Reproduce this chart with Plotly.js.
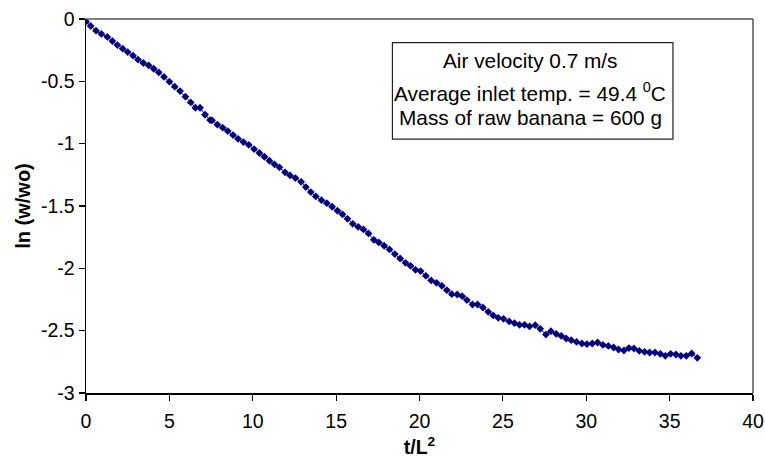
<!DOCTYPE html>
<html>
<head>
<meta charset="utf-8">
<script src="https://cdn.plot.ly/plotly-3.0.1.min.js"></script>
<style>html,body{margin:0;padding:0;background:#fff;}#chart{width:765px;height:458px;}</style>
</head>
<body>
<div id="chart"></div>
<script>
const tL2 = [0,0.28,0.6,0.92,1.28,1.58,1.88,2.2,2.5,2.82,3.12,3.44,3.76,4.06,4.36,4.68,5.0,5.32,5.64,5.96,6.28,6.56,6.84,7.14,7.44,7.56,7.88,8.2,8.5,8.82,9.12,9.44,9.76,10.08,10.4,10.7,11.0,11.3,11.6,11.94,12.24,12.56,12.9,13.18,13.48,13.78,14.12,14.44,14.76,15.08,15.38,15.68,16.0,16.32,16.64,16.94,17.26,17.56,17.88,18.2,18.52,18.84,19.16,19.46,19.76,20.06,20.38,20.7,21.02,21.34,21.64,21.94,22.26,22.56,22.84,23.18,23.48,23.8,24.12,24.42,24.72,25.04,25.38,25.7,26.0,26.3,26.6,26.94,27.24,27.58,27.88,28.2,28.5,28.8,29.1,29.42,29.74,30.04,30.36,30.68,31.0,31.32,31.64,31.94,32.26,32.56,32.86,33.18,33.5,33.8,34.12,34.44,34.74,35.06,35.38,35.68,36.0,36.32,36.66];
const lnW = [-0.02,-0.056,-0.094,-0.12,-0.144,-0.177,-0.209,-0.238,-0.265,-0.294,-0.326,-0.353,-0.372,-0.399,-0.428,-0.465,-0.503,-0.543,-0.578,-0.623,-0.669,-0.712,-0.712,-0.768,-0.811,-0.813,-0.848,-0.872,-0.899,-0.931,-0.961,-0.987,-1.009,-1.043,-1.075,-1.105,-1.137,-1.166,-1.19,-1.23,-1.255,-1.276,-1.306,-1.348,-1.388,-1.423,-1.453,-1.477,-1.506,-1.538,-1.567,-1.603,-1.643,-1.667,-1.688,-1.72,-1.771,-1.792,-1.819,-1.848,-1.886,-1.921,-1.956,-1.98,-2.012,-2.022,-2.06,-2.097,-2.116,-2.14,-2.175,-2.207,-2.21,-2.223,-2.255,-2.29,-2.29,-2.314,-2.349,-2.378,-2.397,-2.405,-2.426,-2.44,-2.453,-2.453,-2.466,-2.456,-2.485,-2.531,-2.504,-2.526,-2.542,-2.563,-2.576,-2.59,-2.603,-2.608,-2.603,-2.595,-2.614,-2.622,-2.635,-2.651,-2.659,-2.64,-2.643,-2.662,-2.67,-2.675,-2.675,-2.686,-2.702,-2.686,-2.691,-2.702,-2.702,-2.683,-2.718];
const xTicks = [0,5,10,15,20,25,30,35,40];
const yTicks = [0,-0.5,-1,-1.5,-2,-2.5,-3];
const noteLines = ["Air velocity 0.7 m/s","Average inlet temp. = 49.4 <sup>0</sup>C","Mass of raw banana = 600 g"];

const font = "Liberation Sans, Arial, sans-serif";
const trace = {
  x: tL2, y: lnW, type: 'scatter', mode: 'lines+markers',
  line: {color: '#000080', width: 1},
  marker: {symbol: 'diamond', size: 6, color: '#000080'},
  showlegend: false, hoverinfo: 'skip'
};
const noteY = [60.7, 91.7, 117.3];
const annotations = noteLines.map((t, i) => ({
  text: t, xref: 'paper', yref: 'paper',
  x: (530 - 86) / (752.7 - 86), y: 1 - (noteY[i] - 19) / (392.7 - 19),
  xanchor: 'center', yanchor: 'middle', showarrow: false,
  font: {family: font, size: 20.8, color: '#000'}
}));
const layout = {
  width: 765, height: 458,
  margin: {l: 86, r: 12.3, t: 19, b: 65.3},
  paper_bgcolor: '#fff', plot_bgcolor: '#fff',
  font: {family: font, size: 19, color: '#000'},
  xaxis: {
    range: [0, 40], tickvals: xTicks, ticktext: xTicks.map(String),
    showgrid: false, zeroline: false, showline: true, linecolor: '#000', linewidth: 1.5,
    ticks: 'outside', ticklen: 6, tickcolor: '#000', tickwidth: 1.2,
    ticklabelstandoff: 4,
    tickfont: {family: font, size: 19.5},
    title: {text: '<b>t/L<sup>2</sup></b>', font: {family: font, size: 19.5}, standoff: 14}
  },
  yaxis: {
    range: [-3, 0], tickvals: yTicks, ticktext: yTicks.map(String),
    showgrid: false, zeroline: false, showline: true, linecolor: '#000', linewidth: 1.5,
    ticks: 'outside', ticklen: 6, tickcolor: '#000', tickwidth: 1.2,
    tickfont: {family: font, size: 19.5},
    title: {text: '<b>ln (w/wo)</b>', font: {family: font, size: 20}, standoff: 5}
  },
  shapes: [
    {type: 'line', xref: 'paper', yref: 'paper', x0: 0, x1: 1, y0: 1, y1: 1, line: {color: '#555', width: 1.5}},
    {type: 'line', xref: 'paper', yref: 'paper', x0: 1, x1: 1, y0: 0, y1: 1, line: {color: '#555', width: 1.5}},
    {type: 'rect', xref: 'paper', yref: 'paper',
     x0: (392.3 - 86) / (752.7 - 86), x1: (672.7 - 86) / (752.7 - 86),
     y0: 1 - (139 - 19) / (392.7 - 19), y1: 1 - (42.7 - 19) / (392.7 - 19),
     line: {color: '#222', width: 1.2}, fillcolor: 'rgba(0,0,0,0)'}
  ],
  annotations: annotations
};
Plotly.newPlot('chart', [trace], layout, {displayModeBar: false, staticPlot: true});
</script>
</body>
</html>
